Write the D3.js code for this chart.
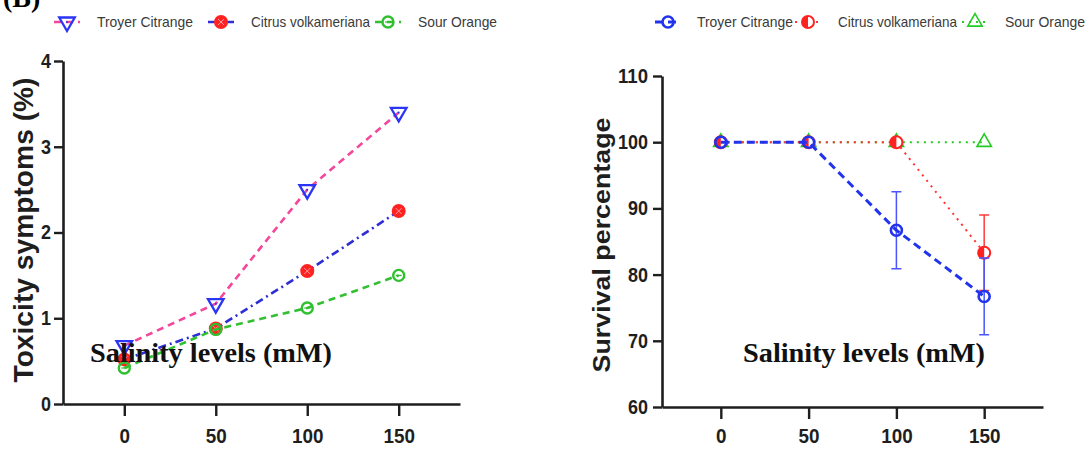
<!DOCTYPE html>
<html>
<head>
<meta charset="utf-8">
<script src="https://cdn.jsdelivr.net/npm/d3@7"></script>
<style>
body{margin:0;background:#fff}
svg text{font-family:"Liberation Sans",Arial,sans-serif}
</style>
</head>
<body>
<script>
// salinity levels (mM)
let levels = [0, 50, 100, 150]
let seriesNames = ["Troyer Citrange", "Citrus volkameriana", "Sour Orange"]

// panel (B) left: toxicity symptoms (%)
let toxTroyer = [0.68, 1.17, 2.5, 3.4]
let toxVolk = [0.52, 0.88, 1.55, 2.25]
let toxSour = [0.42, 0.87, 1.12, 1.5]
let toxTicks = [0, 1, 2, 3, 4]

// right: survival percentage
let survTroyer = [100, 100, 86.7, 76.7]
let survTroyerErr = [0, 0, 5.8, 5.8]
let survVolk = [100, 100, 100, 83.3]
let survVolkErr = [0, 0, 0, 5.7]
let survSour = [100, 100, 100, 100]
let survTicks = [60, 70, 80, 90, 100, 110]

let W = 1085, H = 450
let svg = d3.select("body").append("svg").attr("width", W).attr("height", H)

// panel letter, cropped at the top like the source figure
svg.append("text").attr("x", 3).attr("y", 7)
    .style("font-family", "Liberation Serif").style("font-weight", "bold").style("font-size", "28px")
    .text("(B)")

let ink = "#1e1e1e"

function marker(g, kind, x, y){
    let m = g.append("g").attr("transform", `translate(${x},${y})`)
    if(kind=="tri-down"){
        m.append("path").attr("d", d3.symbol(d3.symbolTriangle, 105)()).attr("transform", "rotate(180)")
            .attr("fill", "none").attr("stroke", "#2a35f5").attr("stroke-width", 2.3)
        m.append("circle").attr("r", 1).attr("fill", "#2a35f5")
    } else if(kind=="red-x"){
        m.append("circle").attr("r", 7).attr("fill", "#ff2222")
        m.append("path").attr("d", "M-3,-3L3,3M3,-3L-3,3").attr("stroke", "#ff9a9a").attr("stroke-width", 1)
    } else if(kind=="green-minus"){
        m.append("circle").attr("r", 5.5).attr("fill", "none").attr("stroke", "#2fc02f").attr("stroke-width", 2.4)
        m.append("path").attr("d", "M-3,0L3,0").attr("stroke", "#2fc02f").attr("stroke-width", 1.2)
    } else if(kind=="blue-o"){
        m.append("circle").attr("r", 5.5).attr("fill", "none").attr("stroke", "#2233ee").attr("stroke-width", 2.6)
    } else if(kind=="red-half"){
        m.append("circle").attr("r", 6).attr("fill", "#fff").attr("stroke", "#ff2222").attr("stroke-width", 2)
        m.append("path").attr("d", d3.arc()({innerRadius:0, outerRadius:6, startAngle:Math.PI, endAngle:2*Math.PI})).attr("fill", "#ff2222")
    } else if(kind=="green-tri"){
        m.append("path").attr("d", d3.symbol(d3.symbolTriangle, 90)())
            .attr("fill", "none").attr("stroke", "#22cc22").attr("stroke-width", 1.6)
    }
}

function panel(o){
    let x = d3.scaleLinear().domain([-33.5, 183.5]).range([o.left, o.right])
    let y = d3.scaleLinear().domain(o.yDomain).range([o.bottom, o.top])
    let g = svg.append("g")

    let ax = g.append("g").attr("transform", `translate(0,${o.bottom})`)
        .call(d3.axisBottom(x).tickValues(levels).tickSize(12).tickSizeOuter(0).tickPadding(o.xPad))
    let ay = g.append("g").attr("transform", `translate(${o.left},0)`)
        .call(d3.axisLeft(y).tickValues(o.yTicks).tickFormat(d3.format("d")).tickSize(9).tickSizeOuter(0).tickPadding(o.yPad))
    ;[ax, ay].forEach(a=>{
        a.select(".domain").attr("stroke", ink).attr("stroke-width", 2.6)
        a.selectAll(".tick line").attr("stroke", ink).attr("stroke-width", 2.4)
        a.selectAll(".tick text").attr("fill", ink).style("font-weight", "bold")
            .attr("lengthAdjust", "spacingAndGlyphs")
    })
    ax.selectAll(".tick text").style("font-size", "21px").attr("textLength", d=>String(d).length*10.5)
    ay.selectAll(".tick text").style("font-size", "20px").attr("textLength", d=>String(d).length*10)

    g.append("text")
        .attr("transform", `translate(${o.labelX},${o.labelY}) rotate(-90)`)
        .attr("text-anchor", "middle").attr("fill", ink)
        .style("font-size", o.labelSize+"px").style("font-weight", "bold")
        .attr("textLength", o.labelLen).attr("lengthAdjust", "spacingAndGlyphs")
        .text(o.yLabel)

    o.series.forEach(s=>{
        let pts = levels.map((l,i)=>[x(l), y(s.values[i])])
        if(s.err){
            levels.forEach((l,i)=>{
                if(!s.err[i]) return
                let cx = x(l), y1 = y(s.values[i]+s.err[i]), y2 = y(s.values[i]-s.err[i])
                g.append("path").attr("d", `M${cx},${y1}V${y2}M${cx-5},${y1}H${cx+5}M${cx-5},${y2}H${cx+5}`)
                    .attr("stroke", s.errColor).attr("stroke-width", 1.5).attr("fill", "none")
            })
        }
        g.append("path").attr("d", d3.line()(pts)).attr("fill", "none")
            .attr("stroke", s.line).attr("stroke-width", s.width).attr("stroke-dasharray", s.dash)
        pts.forEach(p=>marker(g, s.marker, p[0], p[1]))
    })

    // legend
    o.series.forEach(s=>{
        let lg = g.append("g")
        let lx = s.lx
        lg.append("path").attr("d", `M${lx-13},22H${lx+13}`).attr("stroke", s.line)
            .attr("stroke-width", s.width).attr("stroke-dasharray", s.legendDash || s.dash)
        marker(lg, s.marker, lx, 22)
        lg.append("text").attr("x", s.tx).attr("y", 27).attr("fill", "#3a3a3a")
            .style("font-size", "15px").attr("textLength", s.tw).attr("lengthAdjust", "spacingAndGlyphs")
            .text(s.name)
    })

    g.append("text").attr("x", o.salX).attr("y", 362)
        .style("font-family", "Liberation Serif").style("font-weight", "bold").style("font-size", "28px")
        .attr("fill", "#111").attr("textLength", 242).attr("lengthAdjust", "spacingAndGlyphs")
        .text("Salinity levels (mM)")
}

panel({
    left: 63, right: 460, top: 61, bottom: 404,
    yDomain: [0, 4], yTicks: toxTicks, yPad: 3, xPad: 12,
    labelX: 33, labelY: 230, labelSize: 27, labelLen: 305,
    yLabel: "Toxicity symptoms (%)",
    series: [
        {name: seriesNames[0], values: toxTroyer, line: "#f2479b", width: 2.6, dash: "7,5", marker: "tri-down", lx: 67, tx: 97, tw: 96},
        {name: seriesNames[1], values: toxVolk, line: "#2e2ed6", width: 2.6, dash: "8,4,2,4", marker: "red-x", lx: 221, tx: 251, tw: 119},
        {name: seriesNames[2], values: toxSour, line: "#33bf33", width: 2.6, dash: "7,5", marker: "green-minus", lx: 388, tx: 418, tw: 79}
    ],
    salX: 90
})

panel({
    left: 662, right: 1043, top: 76, bottom: 407,
    yDomain: [60, 110], yTicks: survTicks, yPad: 5, xPad: 9,
    labelX: 610, labelY: 245, labelSize: 24, labelLen: 255,
    yLabel: "Survival percentage",
    // drawn back to front: sour orange, volkameriana, troyer on top
    series: [
        {name: seriesNames[2], values: survSour, line: "#22cc22", width: 2, dash: "2,5", marker: "green-tri", lx: 975, tx: 1005, tw: 80},
        {name: seriesNames[1], values: survVolk, err: survVolkErr, errColor: "#ff3b3b", line: "#ff3333", width: 2, dash: "2,5", marker: "red-half", lx: 808, tx: 838, tw: 119},
        {name: seriesNames[0], values: survTroyer, err: survTroyerErr, errColor: "#4a55ff", line: "#2233ee", width: 3, dash: "8,5", marker: "blue-o", lx: 668, tx: 697, tw: 96}
    ],
    salX: 743
})
</script>
</body>
</html>
